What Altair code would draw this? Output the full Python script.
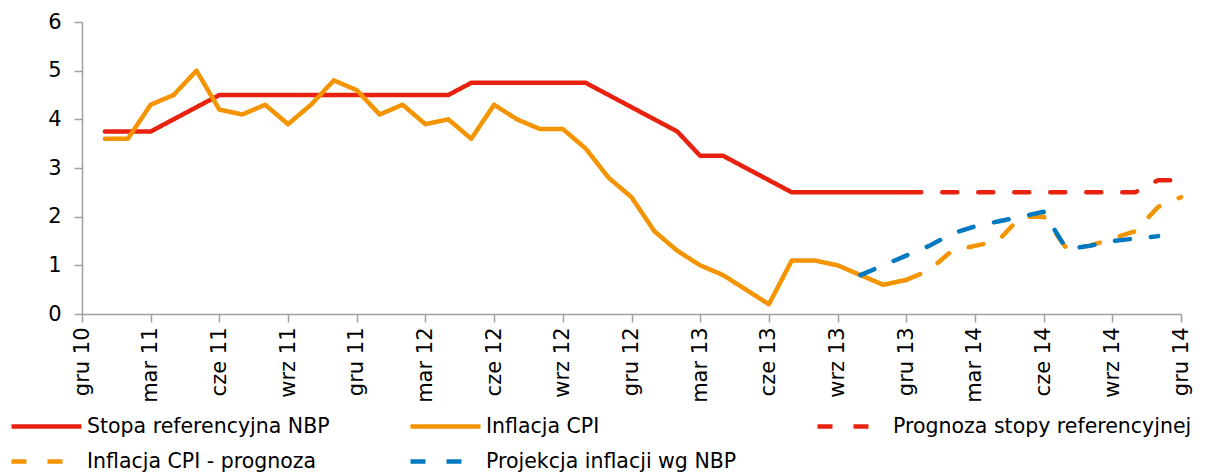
import json
import altair as alt
import pandas as pd

# ---- data (monthly, Dec 2010 = month 0) ----
series_names = [
    "Stopa referencyjna NBP",
    "Inflacja CPI",
    "Prognoza stopy referencyjnej",
    "Inflacja CPI - prognoza",
    "Projekcja inflacji wg NBP",
]
series_start = ["2011-01", "2011-01", "2013-12", "2013-12", "2013-10"]

rate_actual = [3.75, 3.75, 3.75, 4.0, 4.25, 4.5, 4.5, 4.5, 4.5, 4.5, 4.5, 4.5,
               4.5, 4.5, 4.5, 4.5, 4.75, 4.75, 4.75, 4.75, 4.75, 4.75, 4.5, 4.25,
               4.0, 3.75, 3.25, 3.25, 3.0, 2.75, 2.5, 2.5, 2.5, 2.5, 2.5, 2.5]
cpi_actual = [3.6, 3.6, 4.3, 4.5, 5.0, 4.2, 4.1, 4.3, 3.9, 4.3, 4.8, 4.6,
              4.1, 4.3, 3.9, 4.0, 3.6, 4.3, 4.0, 3.8, 3.8, 3.4, 2.8, 2.4,
              1.7, 1.3, 1.0, 0.8, 0.5, 0.2, 1.1, 1.1, 1.0, 0.8, 0.6, 0.7]
rate_forecast = [2.5, 2.5, 2.5, 2.5, 2.5, 2.5, 2.5, 2.5, 2.5, 2.5, 2.5, 2.75, 2.75]
cpi_forecast = [0.7, 0.9, 1.3, 1.4, 1.5, 2.0, 2.0, 1.35, 1.4, 1.55, 1.7, 2.2, 2.4]
nbp_projection = [0.8, 1.0, 1.2, 1.4, 1.65, 1.8, 1.9, 2.0, 2.1, 1.33, 1.4, 1.5, 1.55, 1.6]

tick_months = [0, 3, 6, 9, 12, 15, 18, 21, 24, 27, 30, 33, 36, 39, 42, 45, 48]
tick_labels = ["gru 10", "mar 11", "cze 11", "wrz 11", "gru 11", "mar 12", "cze 12",
               "wrz 12", "gru 12", "mar 13", "cze 13", "wrz 13", "gru 13", "mar 14",
               "cze 14", "wrz 14", "gru 14"]

series_colors = ["#E8220F", "#F39400", "#E8220F", "#F39400", "#0079C1"]
series_dashes = [[1, 0], [1, 0], [15, 21], [15, 21], [15, 21]]

# ---- build long table ----
all_values = [rate_actual, cpi_actual, rate_forecast, cpi_forecast, nbp_projection]


def month_index(ym):
    y, m = ym.split("-")
    return (int(y) - 2010) * 12 + int(m) - 12


rows = []
for order, (name, start, vals) in enumerate(zip(series_names, series_start, all_values)):
    s = month_index(start)
    for i, v in enumerate(vals):
        rows.append({"series": name, "m": s + i, "v": v, "ord": order})
df = pd.DataFrame(rows)

label_expr = "{}[round(datum.value / 3)]".format(json.dumps(tick_labels))

FONT = "DejaVu Sans"

chart = (
    alt.Chart(df)
    .mark_line(strokeWidth=4.5, strokeCap="round", strokeJoin="round")
    .encode(
        x=alt.X(
            "m:Q",
            scale=alt.Scale(domain=[0, 48], nice=False, zero=False),
            axis=alt.Axis(
                title=None,
                values=tick_months,
                labelExpr=label_expr,
                labelAngle=270,
                labelAlign="right",
                labelBaseline="middle",
                labelPadding=5,
                tickSize=8,
                grid=False,
                labelOverlap=False,
                labelFontSize=21,
            ),
        ),
        y=alt.Y(
            "v:Q",
            scale=alt.Scale(domain=[0, 6], nice=False),
            axis=alt.Axis(
                title=None,
                values=[0, 1, 2, 3, 4, 5, 6],
                tickSize=8,
                labelPadding=13,
                grid=False,
                labelFontSize=21,
            ),
        ),
        color=alt.Color(
            "series:N",
            scale=alt.Scale(domain=series_names, range=series_colors),
            legend=alt.Legend(
                title=None,
                orient="none",
                legendX=-48,
                legendY=392,
                direction="horizontal",
                columns=3,
                columnPadding=71,
                rowPadding=12,
                symbolType="M-3.5,0H3.5",
                symbolSize=400,
                symbolStrokeWidth=4.5,
                labelOffset=28,
                labelFont=FONT,
                labelFontSize=20.5,
                labelColor="#000000",
                labelLimit=600,
            ),
        ),
        strokeDash=alt.StrokeDash(
            "series:N",
            scale=alt.Scale(domain=series_names, range=series_dashes),
            legend=alt.Legend(title=None),
        ),
        detail="series:N",
        order="ord:Q",
    )
    .properties(
        width=1099,
        height=292,
        autosize=alt.AutoSizeParams(type="none"),
        padding={"left": 74, "top": 14, "right": 20, "bottom": 158},
    )
    .configure_view(stroke=None)
    .configure_axis(
        labelFont=FONT,
        labelColor="#000000",
        domainColor="#A0A0A0",
        domainWidth=1.5,
        tickColor="#A0A0A0",
        tickWidth=1.5,
    )
)

chart.save("out.html", embed_options={"renderer": "svg", "actions": False})
